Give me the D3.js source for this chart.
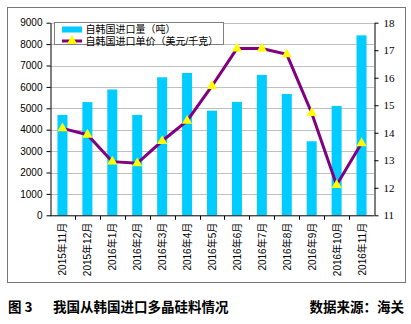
<!DOCTYPE html>
<html><head><meta charset="utf-8">
<script src="https://cdn.jsdelivr.net/npm/d3@7"></script>
<style>body{margin:0;background:#fff}svg{display:block}</style>
</head><body>
<script>
const categories = ["2015年11月","2015年12月","2016年1月","2016年2月","2016年3月","2016年4月","2016年5月","2016年6月","2016年7月","2016年8月","2016年9月","2016年10月","2016年11月"];
const volume = [4690, 5290, 5880, 4690, 6450, 6650, 4890, 5300, 6560, 5670, 3460, 5110, 8410];
const price = [14.16, 13.93, 12.95, 12.89, 13.70, 14.43, 15.70, 17.06, 17.06, 16.85, 14.72, 12.10, 13.62];
const leftTicks = [0,1000,2000,3000,4000,5000,6000,7000,8000,9000];
const rightTicks = [11,12,13,14,15,16,17,18];
const seriesNames = ["自韩国进口量（吨）","自韩国进口单价（美元/千克）"];

const W=411,H=324;
const svg=d3.select("body").append("svg").attr("width",W).attr("height",H);
svg.append("rect").attr("x",7.5).attr("y",7.5).attr("width",398).attr("height",275).attr("fill","#fff").attr("stroke","#777").attr("stroke-width",1);

const L=50,R=374,T=22.7,B=215.3;
const xc=d3.scaleBand().domain(categories).range([L,R]);
const yL=d3.scaleLinear().domain([0,9000]).range([B,T]);
const yR=d3.scaleLinear().domain([11,18]).range([B,T]);

// gridlines
svg.append("g").selectAll("line").data(leftTicks.filter(d=>d>0)).join("line")
 .attr("x1",L).attr("x2",R).attr("y1",d=>Math.round(yL(d))+0.5).attr("y2",d=>Math.round(yL(d))+0.5)
 .attr("stroke","#c0c0c0").attr("stroke-width",1);

// bars
svg.append("g").selectAll("rect").data(volume).join("rect")
 .attr("x",(d,i)=>xc(categories[i])+xc.bandwidth()/2-5).attr("width",10)
 .attr("y",d=>yL(d)).attr("height",d=>B-yL(d)).attr("fill","#00ccff");

// axes
const gl=svg.append("g").attr("transform",`translate(${L+0.5},0)`)
 .call(d3.axisLeft(yL).tickValues(leftTicks).tickSize(4).tickSizeOuter(0).tickFormat(d3.format("d")));
gl.selectAll("text").attr("font-family","Liberation Sans, Arial").attr("font-size","10px").attr("fill","#000").attr("x",-8);
const gr=svg.append("g").attr("transform",`translate(${R+0.5},0)`)
 .call(d3.axisRight(yR).tickValues(rightTicks).tickSize(4).tickSizeOuter(0).tickFormat(d3.format("d")));
gr.selectAll("text").attr("font-family","Liberation Serif, Times New Roman").attr("font-size","11px").attr("fill","#000").attr("x",9);
svg.selectAll(".domain,.tick line").attr("stroke","#000");

// x axis
const gx=svg.append("g").attr("transform",`translate(0,${B+0.5})`);
gx.append("line").attr("x1",L).attr("x2",R).attr("stroke","#000");
gx.selectAll("line.t").data(categories.slice(1)).join("line").attr("class","t")
 .attr("x1",d=>Math.round(xc(d))+0.5).attr("x2",d=>Math.round(xc(d))+0.5).attr("y1",0).attr("y2",4).attr("stroke","#000");
gx.selectAll("text").data(categories).join("text")
 .attr("transform",d=>`translate(${xc(d)+xc.bandwidth()/2+4},7) rotate(-90)`)
 .attr("text-anchor","end").attr("font-family","Liberation Sans, Noto Sans CJK SC").attr("font-size","10px").attr("fill","#000").text(d=>d);

// line
const line=d3.line().x((d,i)=>xc(categories[i])+xc.bandwidth()/2).y(d=>yR(d));
svg.append("path").datum(price).attr("d",line).attr("fill","none").attr("stroke","#800080").attr("stroke-width",3);
const tri=d3.symbol().type(d3.symbolTriangle).size(45);
svg.append("g").selectAll("path").data(price).join("path")
 .attr("transform",(d,i)=>`translate(${xc(categories[i])+xc.bandwidth()/2},${yR(d)})`)
 .attr("d",tri).attr("fill","#ffff00");

// legend
const lg=svg.append("g");
lg.append("rect").attr("x",54.5).attr("y",22.5).attr("width",169).attr("height",22).attr("fill","#fff").attr("stroke","#808080");
lg.append("rect").attr("x",62).attr("y",26.5).attr("width",20).attr("height",6).attr("fill","#00ccff");
lg.append("line").attr("x1",62).attr("x2",82).attr("y1",41).attr("y2",41).attr("stroke","#800080").attr("stroke-width",3);
lg.append("path").attr("transform","translate(72,41)").attr("d",tri).attr("fill","#ffff00");
lg.selectAll("text").data(seriesNames).join("text")
 .attr("x",85.5).attr("y",(d,i)=>33+i*12).attr("font-family","Liberation Sans, Noto Sans CJK SC").attr("font-size","10px").attr("fill","#000").text(d=>d);

// caption
const cap=svg.append("g").attr("font-family","Noto Sans CJK SC").attr("font-weight","bold").attr("font-size","13.5px").attr("fill","#000");
cap.append("text").attr("x",8).attr("y",312).text("图 3");
cap.append("text").attr("x",53).attr("y",312).text("我国从韩国进口多晶硅料情况");
cap.append("text").attr("x",404).attr("y",312).attr("text-anchor","end").text("数据来源：海关");
</script>
</body></html>
